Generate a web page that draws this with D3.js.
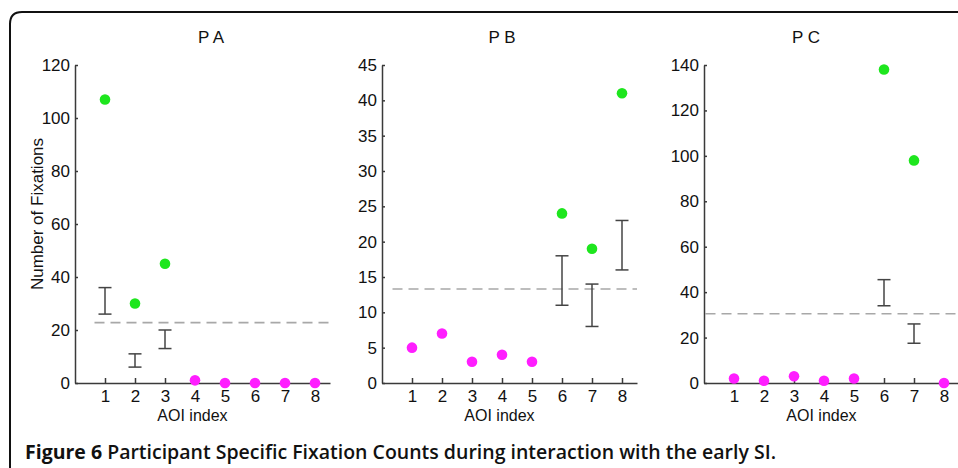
<!DOCTYPE html>
<html><head><meta charset="utf-8">
<script src="https://cdn.jsdelivr.net/npm/d3@7"></script>
<style>
html,body{margin:0;padding:0;background:#fff;overflow:hidden}
svg{display:block}
</style></head>
<body>
<svg id="c" width="958" height="468"></svg>
<script>
// ---- data ----
const aoi = [1, 2, 3, 4, 5, 6, 7, 8];
const panelTitles = ["P A", "P B", "P C"];
const yMax = [120, 45, 140];
const yStep = [20, 5, 20];
// fixation counts per AOI
const countsA = [107, 30, 45, 1, 0, 0, 0, 0];
const countsB = [5, 7, 3, 4, 3, 24, 19, 41];
const countsC = [2, 1, 3, 1, 2, 138, 98, 0];
// true = green (above threshold), false = magenta
const highA = [true, true, true, false, false, false, false, false];
const highB = [false, false, false, false, false, true, true, true];
const highC = [false, false, false, false, false, true, true, false];
// error bars: [aoi, low, high]
const errA = [[1, 26, 36], [2, 6, 11], [3, 13, 20]];
const errB = [[6, 11, 18], [7, 8, 14], [8, 16, 23]];
const errC = [[6, 34, 45.5], [7, 17.5, 26]];
// dashed threshold
const threshold = [22.8, 13.3, 30.5];
const xLabel = "AOI index";
const yLabel = "Number of Fixations";
const captionBold = "Figure 6";
const captionRest = " Participant Specific Fixation Counts during interaction with the early SI.";

const counts = [countsA, countsB, countsC];
const highs = [highA, highB, highC];
const errs = [errA, errB, errC];

const svg = d3.select("#c");
const font = "'Liberation Sans', Arial, sans-serif";
const fs = "17px";
const axisColor = "#3a3a3a";
const green = "#1ee61e", magenta = "#ff1eff";

// frame
svg.append("path")
  .attr("d", "M10,468 L10,24 Q10,12 22,12 L960,12")
  .attr("fill", "none").attr("stroke", "#111").attr("stroke-width", 2);

const panelX = [[75, 330], [382, 637], [704, 959]];
const titleX = [211, 502, 806];
const dashStart = [0.65, 0.35, 0.05];
const plotTop = 65, plotBottom = 383;

panelTitles.forEach((t, p) => {
  const x = d3.scaleLinear().domain([0, 8.5]).range(panelX[p]);
  const y = d3.scaleLinear().domain([0, yMax[p]]).range([plotBottom, plotTop]);
  const g = svg.append("g");

  // dashed threshold
  g.append("line")
    .attr("x1", x(dashStart[p])).attr("x2", x(8.5))
    .attr("y1", y(threshold[p])).attr("y2", y(threshold[p]))
    .attr("stroke", "#a8a8a8").attr("stroke-width", 1.6)
    .attr("stroke-dasharray", "10,6");

  // y axis
  const yTicks = d3.range(0, yMax[p] + 0.001, yStep[p]);
  const ya = g.append("g").attr("transform", `translate(${x(0)},0)`)
    .call(d3.axisLeft(y).tickValues(yTicks).tickSizeInner(-3).tickSizeOuter(0).tickPadding(5));
  // x axis
  const xa = g.append("g").attr("transform", `translate(0,${y(0)})`)
    .call(d3.axisBottom(x).tickValues(aoi).tickSizeInner(-5).tickSizeOuter(0).tickPadding(7).tickFormat(d3.format("d")));
  [ya, xa].forEach(a => {
    a.selectAll("path,line").attr("stroke", axisColor).attr("stroke-width", 1.5);
    a.selectAll("text").attr("fill", "#111").style("font-family", font).style("font-size", fs);
  });

  // error bars
  const eb = g.selectAll(".eb").data(errs[p]).enter().append("g");
  eb.append("line").attr("x1", d => x(d[0])).attr("x2", d => x(d[0]))
    .attr("y1", d => y(d[1])).attr("y2", d => y(d[2]));
  eb.append("line").attr("x1", d => x(d[0]) - 6.5).attr("x2", d => x(d[0]) + 6.5)
    .attr("y1", d => y(d[1])).attr("y2", d => y(d[1]));
  eb.append("line").attr("x1", d => x(d[0]) - 6.5).attr("x2", d => x(d[0]) + 6.5)
    .attr("y1", d => y(d[2])).attr("y2", d => y(d[2]));
  eb.selectAll("line").attr("stroke", "#444").attr("stroke-width", 1.5);

  // points
  g.selectAll(".pt").data(aoi).enter().append("circle")
    .attr("cx", d => x(d)).attr("cy", (d, i) => y(counts[p][i]))
    .attr("r", 5.3).attr("fill", (d, i) => highs[p][i] ? green : magenta);

  // title
  g.append("text").attr("x", titleX[p]).attr("y", 43).attr("text-anchor", "middle")
    .style("font-family", font).style("font-size", fs).attr("fill", "#111").text(t);
  // x label
  g.append("text").attr("x", (x(0) + x(8.5)) / 2 - 10).attr("y", 421)
    .attr("text-anchor", "middle")
    .style("font-family", font).style("font-size", "16px").attr("fill", "#111").text(xLabel);

  if (p === 0) {
    g.append("text").attr("transform", "translate(43,214) rotate(-90)")
      .attr("text-anchor", "middle")
      .style("font-family", font).style("font-size", fs).attr("fill", "#111").text(yLabel);
  }
});

// caption
const cap = svg.append("text").attr("x", 25).attr("y", 459)
  .attr("textLength", 751).attr("lengthAdjust", "spacingAndGlyphs")
  .style("font-family", "'Open Sans', sans-serif").style("font-size", "19px").attr("fill", "#111");
cap.append("tspan").style("font-weight", 700).text(captionBold);
cap.append("tspan").style("font-weight", 600).text(captionRest);
</script>
</body></html>
